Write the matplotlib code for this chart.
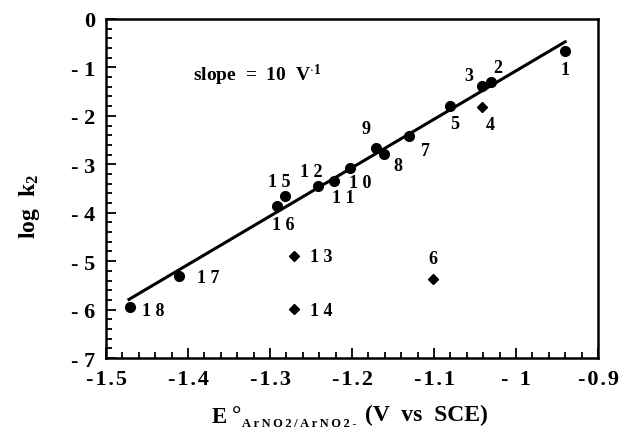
import numpy as np
import matplotlib
matplotlib.use("Agg")
import matplotlib.pyplot as plt
from matplotlib.ticker import MultipleLocator, FixedLocator

plt.rcParams['font.family'] = ['Liberation Serif', 'DejaVu Serif']
plt.rcParams['font.weight'] = 'bold'
plt.rcParams['mathtext.fontset'] = 'custom'
plt.rcParams['mathtext.rm'] = 'Liberation Serif:bold'
plt.rcParams['mathtext.it'] = 'Liberation Serif:bold'
plt.rcParams['mathtext.bf'] = 'Liberation Serif:bold'

# puntos sobre la recta (circulos)
ids_circ = ['1', '2', '3', '5', '7', '8', '9', '1 0', '1 1', '1 2', '1 5', '1 6', '1 7', '1 8']
e_circ = [-0.940, -1.031, -1.041, -1.080, -1.131, -1.161, -1.171, -1.202, -1.222, -1.241, -1.282, -1.291, -1.411, -1.471]
logk_circ = [-0.66, -1.31, -1.39, -1.79, -2.41, -2.79, -2.67, -3.08, -3.34, -3.44, -3.65, -3.86, -5.30, -5.94]

# puntos fuera de la recta (rombos)
ids_diam = ['4', '6', '1 3', '1 4']
e_diam = [-1.041, -1.101, -1.271, -1.271]
logk_diam = [-1.81, -5.37, -4.90, -5.98]

# recta de ajuste
slope = 10.0
intercept = 8.93
x_fit = [-1.472, -0.940]

# desplazamiento de las etiquetas (puntos de pantalla)
offsets = {
    '1': (0, -13), '2': (5, 11), '3': (-10, 8), '4': (6, -13), '5': (3, -13),
    '6': (0, 15), '7': (12, -11), '8': (10, -8), '9': (-7, 14), '1 0': (7, -10),
    '1 1': (7, -12), '1 2': (-5, 10), '1 3': (20, 0), '1 4': (20, -1),
    '1 5': (-4, 10), '1 6': (4, -13), '1 7': (21, -1), '1 8': (17, -3),
}

ts = '\u2009'
hs = '\u200a'
xticks = [-1.5, -1.4, -1.3, -1.2, -1.1, -1.0, -0.9]
xticklabels = [hs.join(s) for s in ['-1.5', '-1.4', '-1.3', '-1.2', '-1.1']] + ['-  1', hs.join('-0.9')]
yticks = [0, -1, -2, -3, -4, -5, -6, -7]
yticklabels = ['0', '- 1', '- 2', '- 3', '- 4', '- 5', '- 6', '- 7']

fig = plt.figure(figsize=(6.21, 4.31), dpi=100)
ax = fig.add_axes([0.1707, 0.167, 0.7923, 0.7866])

xf = np.array(x_fit)
ax.plot(xf, slope * xf + intercept, color='black', lw=2.2, zorder=2)
ax.plot(e_circ, logk_circ, 'o', color='black', ms=7, zorder=3)
ax.plot(e_diam, logk_diam, 'D', color='black', ms=4.8, zorder=3)

for lab, x, y in list(zip(ids_circ, e_circ, logk_circ)) + list(zip(ids_diam, e_diam, logk_diam)):
    dx, dy = offsets[lab]
    ax.annotate(lab, (x, y), xytext=(dx, dy), textcoords='offset points',
                ha='center', va='center', fontsize=13, fontweight='bold')

ax.text(-1.394, -1.15, r'slope  =  10  V$^{\cdot 1}$', fontsize=14, fontweight='bold',
        ha='left', va='center')

ax.set_xlim(-1.5, -0.9)
ax.set_ylim(-7, 0)
ax.xaxis.set_major_locator(FixedLocator(xticks))
ax.set_xticklabels(xticklabels)
ax.yaxis.set_major_locator(FixedLocator(yticks))
ax.set_yticklabels(yticklabels)
ax.xaxis.set_minor_locator(MultipleLocator(0.02))
ax.yaxis.set_minor_locator(MultipleLocator(0.2))
ax.tick_params(which='both', direction='in', top=False, right=False, width=1.3, labelsize=16)
ax.tick_params(which='major', length=7, pad=8)
ax.tick_params(which='minor', length=4)
for lab in ax.get_xticklabels() + ax.get_yticklabels():
    lab.set_fontweight('bold')
for s in ax.spines.values():
    s.set_linewidth(1.8)

# eje y
ax.set_ylabel(r'log  k$_{2}$', fontsize=17, fontweight='bold')
ax.yaxis.set_label_coords(-0.13, 0.45)

# eje x, armado por piezas
base = 431 - 423
t = fig.text(212 / 621, base / 431, 'E', fontsize=16.5, fontweight='bold', va='baseline', ha='left')
t = ax.annotate('\u00b0', xy=(1, base), xycoords=(t, 'figure pixels'), xytext=(3, 0),
                textcoords='offset points', fontsize=17, fontweight='bold', va='baseline', ha='left')
t = ax.annotate(ts.join('ArNO2/ArNO2-'), xy=(1, base - 4), xycoords=(t, 'figure pixels'), xytext=(1, 0),
                textcoords='offset points', fontsize=9, fontweight='bold', va='baseline', ha='left')
ax.annotate('(V  vs  SCE)', xy=(1, base + 2), xycoords=(t, 'figure pixels'), xytext=(6, 0),
            textcoords='offset points', fontsize=17, fontweight='bold', va='baseline', ha='left')

fig.savefig('out.png', dpi=100)
